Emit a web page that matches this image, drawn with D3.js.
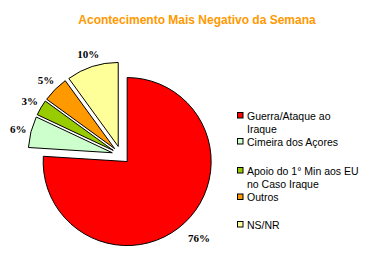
<!DOCTYPE html>
<html><head><meta charset="utf-8">
<script src="https://cdn.jsdelivr.net/npm/d3@7"></script>
<style>body{margin:0;background:#fff}svg{display:block}</style>
</head><body>
<script>
const categories = ["Guerra/Ataque ao Iraque","Cimeira dos Açores","Apoio do 1° Min aos EU no Caso Iraque","Outros","NS/NR"];
const legendLines = [["Guerra/Ataque ao","Iraque"],["Cimeira dos Açores"],["Apoio do 1° Min aos EU","no Caso Iraque"],["Outros"],["NS/NR"]];
const values = [76,6,3,5,10];
const colors = ["#FF0000","#CCFFCC","#99CC00","#FF9900","#FFFF99"];
const title = "Acontecimento Mais Negativo da Semana";

const W=372,H=264;
const svg=d3.select("body").append("svg").attr("width",W).attr("height",H);
svg.append("text").attr("x",197).attr("y",24).attr("text-anchor","middle")
  .attr("font-family","Liberation Sans, Arial, sans-serif").attr("font-weight","bold")
  .attr("font-size",12).attr("fill","#FF9900").text(title);

const cx=121,cy=155,r=84,explode=9;
const pie=d3.pie().sort(null).value(d=>d)(values);
const arc=d3.arc().innerRadius(0).outerRadius(r);
const g=svg.append("g").attr("transform",`translate(${cx},${cy})`);
pie.forEach((p,i)=>{
  const m=(p.startAngle+p.endAngle)/2;
  const dx=Math.sin(m)*explode, dy=-Math.cos(m)*explode;
  g.append("path").attr("d",arc(p)).attr("transform",`translate(${dx},${dy})`)
    .attr("fill",colors[i]).attr("stroke","#000").attr("stroke-width",1);
  const lr = r + 13 + (values[i] > 50 ? 8 : 0);
  const lx = dx + Math.sin(m)*lr, ly = dy - Math.cos(m)*lr;
  g.append("text").attr("x",lx).attr("y",ly+4).attr("text-anchor","middle")
    .attr("font-family","Liberation Serif, Times New Roman, serif").attr("font-weight","bold")
    .attr("font-size",11).text(values[i]+"%");
});

const lg=svg.append("g").attr("font-family","Liberation Sans, Arial, sans-serif").attr("font-size",10.5);
const rowBase=[119.5,145.5,174.5,201,228.5];
legendLines.forEach((lines,i)=>{
  lg.append("rect").attr("x",237.5).attr("y",rowBase[i]-7).attr("width",5.5).attr("height",5.5)
    .attr("fill",colors[i]).attr("stroke","#000");
  lines.forEach((t,j)=>{
    lg.append("text").attr("x",247).attr("y",rowBase[i]+j*13).attr("fill","#000").text(t);
  });
});
</script>
</body></html>
